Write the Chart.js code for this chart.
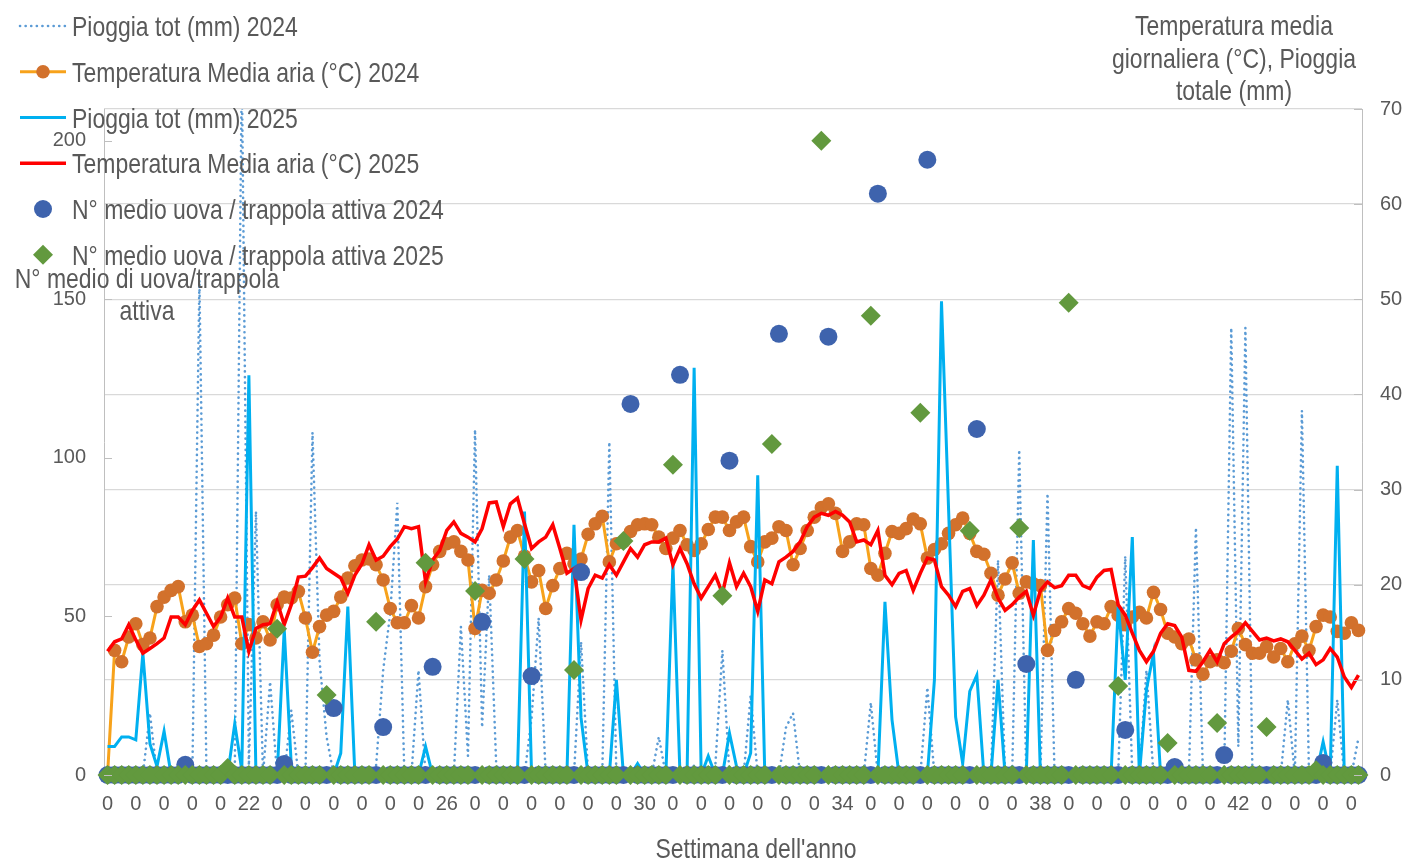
<!DOCTYPE html>
<html>
<head>
<meta charset="utf-8">
<script src="https://cdn.jsdelivr.net/npm/chart.js@4.4.1/dist/chart.umd.min.js"></script>
<style>
    html, body { margin: 0; padding: 0; background: #fff; }
    #wrap { width: 1409px; height: 862px; position: relative; }
</style>
</head>
<body>
<div id="wrap"><canvas id="grafico"></canvas></div>
<script>
// etichette mostrate ogni 4 giorni sull'asse x
var tickLabels = ['0', '0', '0', '0', '0', '22', '0', '0', '0', '0', '0', '0', '26',
    '0', '0', '0', '0', '0', '0', '30', '0', '0', '0', '0', '0', '0', '34',
    '0', '0', '0', '0', '0', '0', '38', '0', '0', '0', '0', '0', '0', '42',
    '0', '0', '0', '0'];

var nomiSerie = ['Pioggia tot (mm) 2024', 'Temperatura Media aria (°C) 2024',
    'Pioggia tot (mm) 2025', 'Temperatura Media aria (°C) 2025',
    'N° medio uova / trappola attiva 2024', 'N° medio uova / trappola attiva 2025'];

var pioggia2024 = [
    0, 0, 0, 0, 0, 0, 6.5, 0, 0, 0,
    0, 0, 0, 52, 0, 0, 0, 0, 0, 74,
    1, 27.7, 0, 9.8, 0, 0, 6.8, 0, 0, 36,
    12, 4, 0, 0, 0, 0, 0, 0, 1, 11,
    17, 28.6, 0, 0, 11, 0, 0, 0, 0, 0,
    15.6, 2, 36.3, 5, 21, 1, 0, 0, 0, 0,
    6, 16.5, 0, 0, 0, 0, 0, 14, 0, 0,
    0, 35, 0, 0, 0, 0, 0, 0, 4, 0,
    0, 0, 0, 1, 0, 0, 1, 13.1, 0, 0,
    0, 8.4, 0, 0, 0, 0, 5, 6.5, 0, 0,
    0, 0, 0, 0, 0, 0, 0, 0, 7.6, 0,
    0, 0, 0, 0, 0, 0, 9.2, 0, 0, 0,
    0, 0, 0, 0, 0, 0, 22.6, 0, 0, 34.2,
    0, 0, 0, 29.6, 0, 0, 0, 0, 0, 0,
    0, 0, 0, 0, 23, 0, 0, 11, 0, 0,
    0, 0, 0, 0, 26, 0, 0, 0, 0, 47,
    3, 47, 0, 0, 0, 0, 0, 7.9, 0, 38.3,
    0, 0, 0, 0, 7.9, 0, 0, 3.9];

var temp2024 = [
    0, 13.1, 11.9, 14.5, 15.9, 13.7, 14.4, 17.7, 18.7, 19.4,
    19.8, 16.1, 16.8, 13.5, 13.8, 14.7, 16.6, 17.9, 18.6, 13.8,
    15.8, 14.4, 16.1, 14.2, 17.9, 18.7, 18.6, 19.3, 16.5, 12.9,
    15.6, 16.8, 17.2, 18.7, 20.7, 22.0, 22.6, 22.7, 22.1, 20.5,
    17.5, 16.0, 16.0, 17.8, 16.5, 19.8, 22.1, 23.5, 24.3, 24.5,
    23.5, 22.6, 15.4, 19.4, 19.1, 20.5, 22.5, 25.0, 25.7, 23.0,
    20.3, 21.5, 17.5, 19.9, 21.7, 23.3, 22.2, 22.7, 25.3, 26.4,
    27.2, 22.4, 24.3, 24.5, 25.6, 26.3, 26.4, 26.3, 25.0, 23.8,
    24.9, 25.7, 24.2, 23.6, 24.3, 25.8, 27.1, 27.1, 25.7, 26.6,
    27.1, 24.0, 22.4, 24.5, 24.9, 26.1, 25.7, 22.1, 23.8, 25.7,
    27.1, 28.1, 28.5, 27.5, 23.5, 24.5, 26.4, 26.3, 21.7, 21.0,
    23.3, 25.6, 25.4, 25.9, 26.9, 26.4, 22.8, 23.7, 24.3, 25.4,
    26.3, 27.0, 25.4, 23.5, 23.2, 21.2, 18.9, 20.6, 22.3, 19.1,
    20.3, 20.1, 19.9, 13.1, 15.2, 16.1, 17.5, 17.0, 15.9, 14.6,
    16.1, 15.9, 17.7, 16.8, 15.8, 16.6, 17.1, 16.5, 19.2, 17.4,
    14.9, 14.5, 13.8, 14.3, 12.1, 10.6, 11.9, 12.1, 11.8, 13.0,
    15.4, 13.7, 12.8, 12.8, 13.5, 12.4, 13.3, 11.9, 13.8, 14.6,
    13.1, 15.6, 16.8, 16.6, 15.1, 14.9, 16.0, 15.2];

var pioggia2025 = [
    3.0, 3.0, 4.0, 4.0, 3.7, 12.8, 3.3, 0.9, 4.6, 0,
    0, 0, 0, 0, 0, 0, 0, 0, 5.4, 0.5,
    42, 0, 0, 0, 0, 15.3, 1, 0, 0, 0,
    0, 0, 0, 2.3, 17.7, 0, 0, 0, 0, 0,
    0, 0, 0, 0, 0, 3, 0, 0, 0, 0,
    0, 0, 0, 0, 0, 0, 0, 0, 0, 27.7,
    0, 0, 0, 0, 0, 0, 26.3, 6, 0, 0,
    0, 0, 10, 0, 0, 1.2, 0, 0, 0, 0,
    22.2, 0, 0, 42.8, 0, 2, 0, 0, 4.4, 0.9,
    0, 2.3, 31.5, 0, 0, 0, 0, 0, 0, 0,
    0, 0, 0, 0, 0, 0, 0, 0, 0, 0,
    18.2, 5.8, 0, 0, 0, 0, 0, 10, 49.8, 28,
    6.1, 1.2, 8.8, 10.5, 0, 0, 10, 0, 0, 0,
    0, 24.7, 0, 0, 0, 0, 0, 0, 0, 0,
    0, 0, 0, 17.7, 10, 25, 0, 9, 12.8, 0,
    0, 0, 0, 0, 0, 0, 0, 0, 0, 0,
    0, 0, 0, 0, 0, 0, 0, 0, 0, 0,
    0, 0, 3.5, 0, 32.5, 0, 0, 0];

var temp2025 = [
    13.0, 14.0, 14.3, 15.8, 14.2, 12.8, 13.3, 13.8, 14.4, 16.6,
    16.6, 15.8, 17.3, 18.4, 17.0, 15.6, 16.6, 18.6, 16.6, 16.6,
    13.0, 15.4, 15.8, 15.9, 18.2, 15.8, 17.9, 20.8, 20.9, 21.8,
    22.8, 21.7, 21.2, 20.7, 19.1, 21.0, 22.2, 24.2, 22.6, 23.0,
    24.0, 24.8, 26.1, 25.9, 26.1, 20.3, 22.6, 23.6, 25.7, 26.6,
    25.4, 25.0, 24.5, 25.9, 28.6, 28.7, 26.1, 28.5, 29.1, 26.4,
    23.8, 24.5, 25.0, 26.3, 23.8, 21.2, 21.7, 16.3, 19.6, 21.0,
    20.7, 22.1, 21.0, 22.4, 23.8, 22.9, 24.2, 24.5, 24.5, 24.9,
    22.1, 23.8, 22.2, 20.1, 18.6, 19.8, 21.0, 19.1, 22.3, 19.8,
    21.2, 19.8, 17.2, 20.5, 20.1, 22.4, 22.9, 23.5, 24.5, 26.1,
    27.1, 27.5, 27.3, 27.7, 27.3, 26.6, 24.5, 24.7, 24.2, 25.7,
    21.0, 20.0, 21.2, 21.5, 19.4, 21.2, 22.8, 22.6, 19.8, 18.9,
    17.7, 19.3, 19.6, 17.8, 18.9, 20.5, 18.6, 17.3, 17.9, 18.7,
    19.3, 16.8, 19.4, 20.3, 19.7, 19.9, 21.0, 21.0, 19.9, 19.6,
    20.8, 21.5, 21.6, 17.9, 16.8, 14.9, 13.1, 11.9, 13.0, 14.9,
    15.9, 15.7, 14.5, 11.0, 10.9, 11.9, 13.1, 11.9, 13.8, 14.5,
    15.1, 16.0, 15.1, 14.2, 14.4, 14.1, 14.3, 14.0, 13.1, 12.2,
    12.8, 11.6, 12.1, 13.3, 12.4, 10.3, 9.2, 10.5];

var uova2024 = [
    0, 0, 0, 0, 0, 0, 0, 0, 0, 0,
    0, 3.2, 0, 0, 0, 0, 0, 0, 0, 0,
    0, 0, 0, 0, 0, 3.5, 0, 0, 0, 0,
    0, 0, 21.1, 0, 0, 0, 0, 0, 0, 15.1,
    0, 0, 0, 0, 0, 0, 34.1, 0, 0, 0,
    0, 0, 0, 48.3, 0, 0, 0, 0, 0, 0,
    31.2, 0, 0, 0, 0, 0, 0, 64, 0, 0,
    0, 0, 0, 0, 117, 0, 0, 0, 0, 0,
    0, 126.2, 0, 0, 0, 0, 0, 0, 99.1, 0,
    0, 0, 0, 0, 0, 139.1, 0, 0, 0, 0,
    0, 0, 138.2, 0, 0, 0, 0, 0, 0, 183.3,
    0, 0, 0, 0, 0, 0, 194, 0, 0, 0,
    0, 0, 0, 109.1, 0, 0, 0, 0, 0, 0,
    35, 0, 0, 0, 0, 0, 0, 30, 0, 0,
    0, 0, 0, 0, 14.2, 0, 0, 0, 0, 0,
    0, 2.5, 0, 0, 0, 0, 0, 0, 6.3, 0,
    0, 0, 0, 0, 0, 0, 0, 0, 0, 0,
    0, 0, 3.8, 0, 0, 0, 0, 0];

var uova2025 = [
    0, 0, 0, 0, 0, 0, 0, 0, 0, 0,
    0, 0, 0, 0, 0, 0, 0, 2.2, 0, 0,
    0, 0, 0, 0, 46.1, 0, 0, 0, 0, 0,
    0, 25.2, 0, 0, 0, 0, 0, 0, 48.3, 0,
    0, 0, 0, 0, 0, 66.9, 0, 0, 0, 0,
    0, 0, 58, 0, 0, 0, 0, 0, 0, 68.1,
    0, 0, 0, 0, 0, 0, 33.1, 0, 0, 0,
    0, 0, 0, 73.8, 0, 0, 0, 0, 0, 0,
    97.8, 0, 0, 0, 0, 0, 0, 56.5, 0, 0,
    0, 0, 0, 0, 104.4, 0, 0, 0, 0, 0,
    0, 200, 0, 0, 0, 0, 0, 0, 144.8, 0,
    0, 0, 0, 0, 0, 114.2, 0, 0, 0, 0,
    0, 0, 77, 0, 0, 0, 0, 0, 0, 77.9,
    0, 0, 0, 0, 0, 0, 148.9, 0, 0, 0,
    0, 0, 0, 28.1, 0, 0, 0, 0, 0, 0,
    10.1, 0, 0, 0, 0, 0, 0, 16.4, 0, 0,
    0, 0, 0, 0, 15.1, 0, 0, 0, 0, 0,
    0, 1.5, 0, 0, 0, 0, 0, 0];

// un giorno per categoria
var giorni = temp2024.map(function (v, i) { return i; });

var GRIGIO = '#595959';

// controllo se il font stretto esiste davvero
function haFontStretto() {
    var c = document.createElement('canvas').getContext('2d');
    c.font = '28px "Liberation Sans Narrow", "Liberation Sans"';
    var a = c.measureText('Pioggia tot (mm) 2024').width;
    c.font = '28px "Liberation Sans"';
    var b = c.measureText('Pioggia tot (mm) 2024').width;
    return a < b * 0.9;
}
var STRETTO = haFontStretto();
var FAMIGLIA = STRETTO ? '"Liberation Sans Narrow", "Liberation Sans", Arial, sans-serif'
                       : '"Liberation Sans", Arial, sans-serif';
var TICK_SIZE = STRETTO ? 23 : 20;

function scritta(ctx, testo, x, y, size, align) {
    ctx.save();
    ctx.fillStyle = GRIGIO;
    ctx.textBaseline = 'alphabetic';
    ctx.textAlign = align;
    ctx.font = size + 'px ' + FAMIGLIA;
    ctx.translate(x, y);
    if (!STRETTO) ctx.scale(0.82, 1);
    ctx.fillText(testo, 0, 0);
    ctx.restore();
}

var colori = {
    pioggia24: '#5B9BD5',
    temp24: '#F7A21B',
    temp24punti: '#D2712C',
    pioggia25: '#00B0F0',
    temp25: '#FF0000',
    uova24: '#3E63AD',
    uova25: '#62993E'
};

var decorazioni = {
    id: 'decorazioni',
    afterDraw: function (chart) {
        var ctx = chart.ctx;
        var area = chart.chartArea;

        // tacche interne sugli assi verticali
        ctx.save();
        ctx.strokeStyle = '#BFBFBF';
        ctx.lineWidth = 1;
        chart.scales.y.ticks.forEach(function (t) {
            var py = Math.round(chart.scales.y.getPixelForValue(t.value)) + 0.5;
            ctx.beginPath(); ctx.moveTo(area.left, py); ctx.lineTo(area.left + 8, py); ctx.stroke();
        });
        chart.scales.y1.ticks.forEach(function (t) {
            var py = Math.round(chart.scales.y1.getPixelForValue(t.value)) + 0.5;
            ctx.beginPath(); ctx.moveTo(area.right - 8, py); ctx.lineTo(area.right, py); ctx.stroke();
        });
        ctx.restore();

        // titoli assi
        scritta(ctx, 'Temperatura media', 1234, 35, 28, 'center');
        scritta(ctx, 'giornaliera (°C), Pioggia', 1234, 68, 28, 'center');
        scritta(ctx, 'totale (mm)', 1234, 100, 28, 'center');
        scritta(ctx, 'N° medio di uova/trappola', 147, 288, 28, 'center');
        scritta(ctx, 'attiva', 147, 320, 28, 'center');
        scritta(ctx, "Settimana dell'anno", 756, 858, 28, 'center');

        // legenda
        var x0 = 20, x1 = 66, xm = 43;
        for (var k = 0; k < nomiSerie.length; k++) {
            var yc = 26 + k * 45.75;
            ctx.save();
            if (k === 0) {
                ctx.strokeStyle = colori.pioggia24; ctx.lineWidth = 2.6;
                ctx.lineCap = 'round'; ctx.setLineDash([0.1, 5.5]);
                ctx.beginPath(); ctx.moveTo(x0, yc); ctx.lineTo(x1, yc); ctx.stroke();
            } else if (k === 1) {
                ctx.strokeStyle = colori.temp24; ctx.lineWidth = 3;
                ctx.beginPath(); ctx.moveTo(x0, yc); ctx.lineTo(x1, yc); ctx.stroke();
                ctx.fillStyle = colori.temp24punti;
                ctx.beginPath(); ctx.arc(xm, yc, 6.8, 0, Math.PI * 2); ctx.fill();
            } else if (k === 2) {
                ctx.strokeStyle = colori.pioggia25; ctx.lineWidth = 3;
                ctx.beginPath(); ctx.moveTo(x0, yc); ctx.lineTo(x1, yc); ctx.stroke();
            } else if (k === 3) {
                ctx.strokeStyle = colori.temp25; ctx.lineWidth = 3.5;
                ctx.beginPath(); ctx.moveTo(x0, yc); ctx.lineTo(x1, yc); ctx.stroke();
            } else if (k === 4) {
                ctx.fillStyle = colori.uova24;
                ctx.beginPath(); ctx.arc(xm, yc, 9, 0, Math.PI * 2); ctx.fill();
            } else {
                ctx.fillStyle = colori.uova25;
                ctx.beginPath();
                ctx.moveTo(xm - 10, yc); ctx.lineTo(xm, yc - 10);
                ctx.lineTo(xm + 10, yc); ctx.lineTo(xm, yc + 10);
                ctx.closePath(); ctx.fill();
            }
            ctx.restore();
            scritta(ctx, nomiSerie[k], 72, yc + 10, 28, 'left');
        }
    }
};

function makeChart() {
    var tela = document.getElementById('grafico');

    var datasets = [
        {
            label: nomiSerie[0], data: pioggia2024, yAxisID: 'y1', order: 6,
            borderColor: colori.pioggia24, borderWidth: 2.6, borderDash: [0.1, 5.5],
            borderCapStyle: 'round', pointRadius: 0, tension: 0, fill: false
        },
        {
            label: nomiSerie[1], data: temp2024, yAxisID: 'y1', order: 5,
            borderColor: colori.temp24, borderWidth: 3, tension: 0, fill: false,
            pointRadius: 6.8, pointBorderWidth: 0,
            pointBackgroundColor: colori.temp24punti, pointBorderColor: colori.temp24punti
        },
        {
            label: nomiSerie[2], data: pioggia2025, yAxisID: 'y1', order: 4,
            borderColor: colori.pioggia25, borderWidth: 3, pointRadius: 0, tension: 0, fill: false
        },
        {
            label: nomiSerie[3], data: temp2025, yAxisID: 'y1', order: 3,
            borderColor: colori.temp25, borderWidth: 3.5, pointRadius: 0, tension: 0, fill: false
        },
        {
            label: nomiSerie[4], data: uova2024, yAxisID: 'y', order: 2,
            showLine: false, pointStyle: 'circle', pointRadius: 9, pointBorderWidth: 0,
            pointBackgroundColor: colori.uova24, pointBorderColor: colori.uova24, clip: false
        },
        {
            label: nomiSerie[5], data: uova2025, yAxisID: 'y', order: 1,
            showLine: false, pointStyle: 'rectRot', pointRadius: 10, pointBorderWidth: 0,
            pointBackgroundColor: colori.uova25, pointBorderColor: colori.uova25, clip: false
        }
    ];

    var chartOptions = {
        responsive: true,
        maintainAspectRatio: false,
        devicePixelRatio: 1,
        animation: false,
        layout: { padding: { top: 109, left: 0, right: 0, bottom: 0 } },
        plugins: { legend: { display: false }, tooltip: { enabled: false } },
        scales: {
            x: {
                type: 'category',
                offset: true,
                grid: { display: false },
                border: { display: true, color: '#BFBFBF' },
                ticks: {
                    autoSkip: false, maxRotation: 0, minRotation: 0, padding: 9,
                    color: GRIGIO, font: { family: FAMIGLIA, size: TICK_SIZE },
                    callback: function (v, i) { return i % 4 === 0 ? tickLabels[i / 4] : ''; }
                },
                afterFit: function (s) { s.height = 87; }
            },
            y: {
                position: 'left', min: 0, max: 210,
                grid: { drawOnChartArea: false, drawTicks: false },
                border: { display: true, color: '#BFBFBF' },
                ticks: {
                    stepSize: 50, includeBounds: false, padding: 18,
                    color: GRIGIO, font: { family: FAMIGLIA, size: TICK_SIZE }
                },
                afterFit: function (s) { s.width = 104; }
            },
            y1: {
                position: 'right', min: 0, max: 70,
                grid: { color: '#D9D9D9', lineWidth: 1.3, drawTicks: false },
                border: { display: true, color: '#BFBFBF' },
                ticks: {
                    stepSize: 10, padding: 18,
                    color: GRIGIO, font: { family: FAMIGLIA, size: TICK_SIZE }
                },
                afterFit: function (s) { s.width = 47; }
            }
        }
    };

    new Chart(tela, {
        type: 'line',
        data: { labels: giorni, datasets: datasets },
        options: chartOptions,
        plugins: [decorazioni]
    });
}

document.addEventListener('DOMContentLoaded', makeChart);
</script>
</body>
</html>
